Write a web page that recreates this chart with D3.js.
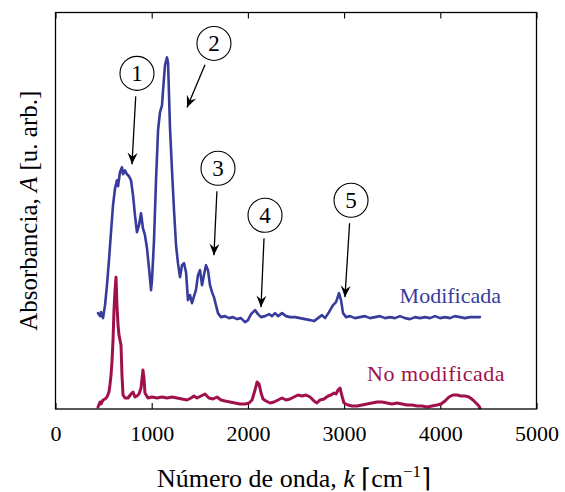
<!DOCTYPE html>
<meta charset="utf-8">
<style>
body { margin: 0; background: #fff; }
text { font-family: "Liberation Serif", "Times New Roman", serif; }
.frame { fill: none; stroke: #000; stroke-width: 1.3px; }
.axis path { display: none; }
.axis line { stroke: #000; stroke-width: 1.1px; }
.axis text { font-size: 22px; fill: #000; font-family: "Liberation Serif", serif; }
.spectrum { fill: none; stroke-linejoin: round; stroke-linecap: round; }
.callout circle { fill: #fff; stroke: #000; stroke-width: 1.1px; }
.callout line { stroke: #000; stroke-width: 1.3px; }
</style>
<svg width="565" height="492"></svg>
<script src="https://cdn.jsdelivr.net/npm/d3@7"></script>
<script>
// wavenumber (cm^-1) and absorbance (arb. units) of the modified sample
var modK = [442, 463, 473, 494, 515, 535, 556, 577, 598, 619, 639, 650, 670, 691, 702, 722, 743, 764, 785, 806,
  826, 847, 868, 889, 909, 930, 951, 972, 993, 1003, 1024, 1045, 1066, 1086, 1107, 1118, 1138, 1159, 1170, 1190,
  1211, 1232, 1253, 1273, 1294, 1315, 1336, 1357, 1377, 1398, 1419, 1440, 1460, 1481, 1502, 1523, 1543, 1564, 1585, 1606,
  1627, 1647, 1668, 1689, 1720, 1762, 1803, 1845, 1887, 1928, 1970, 2001, 2033, 2074, 2105, 2136, 2178, 2220, 2251, 2282,
  2313, 2355, 2396, 2438, 2490, 2542, 2594, 2646, 2687, 2729, 2770, 2802, 2843, 2885, 2916, 2937, 2947, 2968, 2989, 3020,
  3061, 3113, 3165, 3217, 3269, 3321, 3373, 3425, 3477, 3529, 3581, 3633, 3685, 3737, 3789, 3841, 3893, 3945, 3997, 4049,
  4101, 4152, 4204, 4256, 4308, 4360, 4412];
var modA = [0.96, 0.93, 0.97, 0.91, 1.04, 1.24, 1.49, 1.77, 2.04, 2.21, 2.29, 2.23, 2.37, 2.42, 2.35, 2.39, 2.35, 2.33, 2.29, 2.14,
  1.94, 1.77, 1.84, 1.96, 1.81, 1.74, 1.61, 1.41, 1.19, 1.29, 1.69, 2.29, 2.79, 2.97, 3.04, 3.19, 3.44, 3.52, 3.47, 2.82,
  2.39, 1.99, 1.64, 1.46, 1.32, 1.44, 1.46, 1.37, 1.09, 1.14, 1.06, 1.13, 1.19, 1.34, 1.39, 1.24, 1.34, 1.44, 1.39, 1.24,
  1.17, 1.12, 1.04, 0.96, 0.92, 0.93, 0.91, 0.92, 0.90, 0.91, 0.87, 0.89, 0.95, 0.99, 0.95, 0.92, 0.93, 0.95, 0.93, 0.96,
  0.93, 0.96, 0.93, 0.92, 0.92, 0.91, 0.90, 0.89, 0.88, 0.91, 0.94, 0.91, 0.97, 1.04, 1.07, 1.13, 1.16, 1.09, 0.96, 0.92,
  0.93, 0.91, 0.92, 0.93, 0.91, 0.92, 0.93, 0.91, 0.92, 0.91, 0.93, 0.91, 0.90, 0.92, 0.91, 0.92, 0.91, 0.93, 0.91, 0.92,
  0.91, 0.93, 0.92, 0.91, 0.92, 0.92, 0.92];

// unmodified sample
var rawK = [442, 463, 473, 494, 515, 535, 556, 566, 577, 587, 598, 608, 619, 629, 639, 650, 660, 670, 681, 691,
  702, 722, 754, 785, 806, 826, 847, 868, 889, 909, 920, 930, 961, 1003, 1055, 1107, 1159, 1211, 1263, 1315,
  1367, 1409, 1440, 1471, 1512, 1554, 1595, 1637, 1679, 1720, 1762, 1814, 1866, 1918, 1970, 2012, 2043, 2074, 2095, 2116,
  2137, 2157, 2188, 2230, 2271, 2313, 2355, 2396, 2438, 2479, 2521, 2563, 2604, 2646, 2687, 2718, 2749, 2791, 2833, 2864,
  2895, 2916, 2937, 2958, 2978, 2999, 3041, 3082, 3134, 3186, 3238, 3290, 3342, 3394, 3446, 3498, 3550, 3602, 3654, 3706,
  3758, 3810, 3862, 3914, 3966, 4007, 4049, 4090, 4132, 4174, 4215, 4257, 4298, 4340, 4371, 4402, 4412];
var rawA = [0.02, 0.07, 0.05, 0.09, 0.10, 0.12, 0.17, 0.24, 0.34, 0.47, 0.69, 0.99, 1.19, 1.32, 1.04, 0.84, 0.74, 0.69, 0.64, 0.34,
  0.14, 0.11, 0.11, 0.15, 0.17, 0.12, 0.13, 0.15, 0.21, 0.39, 0.31, 0.16, 0.11, 0.12, 0.11, 0.12, 0.11, 0.12, 0.11, 0.10,
  0.09, 0.11, 0.13, 0.11, 0.13, 0.15, 0.11, 0.10, 0.12, 0.09, 0.08, 0.07, 0.06, 0.05, 0.05, 0.06, 0.09, 0.19, 0.27, 0.25,
  0.16, 0.10, 0.08, 0.06, 0.07, 0.09, 0.11, 0.09, 0.10, 0.12, 0.14, 0.13, 0.14, 0.12, 0.08, 0.06, 0.09, 0.10, 0.13, 0.14,
  0.16, 0.15, 0.19, 0.21, 0.13, 0.06, 0.04, 0.03, 0.03, 0.04, 0.05, 0.06, 0.07, 0.07, 0.06, 0.05, 0.06, 0.05, 0.04, 0.04,
  0.03, 0.03, 0.02, 0.03, 0.04, 0.05, 0.08, 0.12, 0.14, 0.14, 0.13, 0.13, 0.12, 0.09, 0.06, 0.03, 0.01];

var xTicks = [0, 1000, 2000, 3000, 4000, 5000];

// numbered callouts: circle centre and arrow tip, in data units
var calloutNum = ["1", "2", "3", "4", "5"];
var circleK = [847, 1647, 1689, 2178, 3072];
var circleA = [3.36, 3.66, 2.41, 1.94, 2.09];
var tipK = [795, 1367, 1647, 2136, 3009];
var tipA = [2.45, 3.02, 1.54, 1.02, 1.12];

var blue = "#373b9c", wine = "#a0104d";

var svg = d3.select("svg"),
    plotL = 55.5, plotR = 536.5, plotT = 12.5, plotB = 409;

var x = d3.scaleLinear().domain([0, 5000]).range([plotL, plotR]);
var y = d3.scaleLinear().domain([0, 3.97]).range([plotB, plotT]);

// arrowhead
svg.append("defs").append("marker")
    .attr("id", "head")
    .attr("markerUnits", "userSpaceOnUse")
    .attr("viewBox", "-12 -6 13 12")
    .attr("refX", 0).attr("refY", 0)
    .attr("markerWidth", 13).attr("markerHeight", 12)
    .attr("orient", "auto")
  .append("path")
    .attr("d", "M0,0L-11.5,-5L-7.5,0L-11.5,5Z")
    .attr("fill", "#000");

// ticks pointing into the frame, labels only below
svg.append("g")
    .attr("class", "axis")
    .attr("transform", "translate(0," + plotB + ")")
    .call(d3.axisBottom(x).tickValues(xTicks).tickFormat(d3.format("d"))
      .tickSizeInner(-6).tickSizeOuter(0).tickPadding(16.5));

svg.append("g")
    .attr("class", "axis")
    .attr("transform", "translate(0," + plotT + ")")
    .call(d3.axisTop(x).tickValues(xTicks).tickSizeInner(-6).tickSizeOuter(0).tickFormat(""));

var line = d3.line()
    .x(function(d) { return x(d[0]); })
    .y(function(d) { return y(d[1]); });

svg.append("path")
    .datum(d3.zip(rawK, rawA))
    .attr("class", "spectrum")
    .attr("stroke", wine)
    .attr("stroke-width", 3)
    .attr("d", line);

svg.append("path")
    .datum(d3.zip(modK, modA))
    .attr("class", "spectrum")
    .attr("stroke", blue)
    .attr("stroke-width", 2.6)
    .attr("d", line);

// series names
svg.append("text")
    .attr("x", x(4631)).attr("y", y(1.06))
    .attr("text-anchor", "end")
    .attr("font-size", 22)
    .attr("fill", blue)
    .text("Modificada");

svg.append("text")
    .attr("x", x(4672)).attr("y", y(0.28))
    .attr("text-anchor", "end")
    .attr("font-size", 22)
    .attr("letter-spacing", 0.5)
    .attr("fill", wine)
    .text("No modificada");

// callouts
var callouts = svg.append("g")
    .attr("class", "callout")
  .selectAll("g")
  .data(calloutNum.map(function(n, i) {
    return { n: n, cx: x(circleK[i]), cy: y(circleA[i]), tx: x(tipK[i]), ty: y(tipA[i]) };
  }))
  .enter().append("g");

callouts.append("line")
    .attr("x1", function(d) {
      var len = Math.hypot(d.tx - d.cx, d.ty - d.cy);
      return d.cx + (d.tx - d.cx) * 23 / len;
    })
    .attr("y1", function(d) {
      var len = Math.hypot(d.tx - d.cx, d.ty - d.cy);
      return d.cy + (d.ty - d.cy) * 23 / len;
    })
    .attr("x2", function(d) { return d.tx; })
    .attr("y2", function(d) { return d.ty; })
    .attr("marker-end", "url(#head)");

callouts.append("circle")
    .attr("cx", function(d) { return d.cx; })
    .attr("cy", function(d) { return d.cy; })
    .attr("r", 17);

callouts.append("text")
    .attr("x", function(d) { return d.cx; })
    .attr("y", function(d) { return d.cy + 7.5; })
    .attr("text-anchor", "middle")
    .attr("font-size", 23)
    .text(function(d) { return d.n; });

// frame
svg.append("rect")
    .attr("class", "frame")
    .attr("x", plotL).attr("y", plotT)
    .attr("width", plotR - plotL).attr("height", plotB - plotT);

// axis titles
var xt = svg.append("text")
    .attr("x", (plotL + plotR) / 2 - 2)
    .attr("y", 486.5)
    .attr("text-anchor", "middle")
    .attr("font-size", 26);
xt.append("tspan").text("Número de onda, ");
xt.append("tspan").attr("font-style", "italic").text("k");
xt.append("tspan").text(" ⌈cm");
xt.append("tspan").attr("font-size", 17).attr("dy", -10).text("−1");
xt.append("tspan").attr("dy", 10).text("⌉");

var yt = svg.append("text")
    .attr("transform", "translate(37," + ((plotT + plotB) / 2) + ")rotate(-90)")
    .attr("text-anchor", "middle")
    .attr("font-size", 25);
yt.append("tspan").text("Absorbancia, ");
yt.append("tspan").attr("font-style", "italic").text("A");
yt.append("tspan").text(" [u. arb.]");
</script>
